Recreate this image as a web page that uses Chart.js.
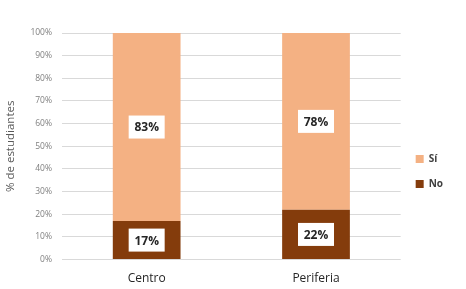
<!DOCTYPE html>
<html>
<head>
<meta charset="utf-8">
<script src="https://cdn.jsdelivr.net/npm/chart.js@4"></script>
<style>
  body { margin: 0; background: #fff; }
  #wrap { width: 466px; height: 289px; }
</style>
</head>
<body>
<div id="wrap"><canvas id="chart" width="466" height="289"></canvas></div>
<script>
// Categories and series values (percent of students)
const categories = ['Centro', 'Periferia'];
const noValues = [17, 22];
const siValues = [83, 78];
const yTicks = [0, 10, 20, 30, 40, 50, 60, 70, 80, 90, 100];

// White boxes with the percentage in the middle of each segment
const boxLabels = {
  id: 'boxLabels',
  afterDatasetsDraw(chart) {
    const ctx = chart.ctx;
    ctx.save();
    ctx.font = 'bold 12px "Open Sans", sans-serif';
    ctx.textAlign = 'center';
    ctx.textBaseline = 'middle';
    chart.data.datasets.forEach((ds, di) => {
      const meta = chart.getDatasetMeta(di);
      meta.data.forEach((bar, i) => {
        const cx = bar.x;
        const cy = (bar.y + bar.base) / 2;
        const w = 36, h = 23;
        ctx.fillStyle = '#ffffff';
        ctx.fillRect(cx - w / 2, cy - h / 2, w, h);
        ctx.fillStyle = '#262626';
        ctx.fillText(ds.data[i] + '%', cx, cy + 1);
      });
    });
    ctx.restore();
  }
};

new Chart(document.getElementById('chart'), {
  type: 'bar',
  data: {
    labels: categories,
    datasets: [
      { label: 'No', data: noValues, backgroundColor: '#843c0c', barPercentage: 0.8, categoryPercentage: 0.5 },
      { label: 'Sí', data: siValues, backgroundColor: '#f4b183', barPercentage: 0.8, categoryPercentage: 0.5 }
    ]
  },
  options: {
    responsive: false,
    animation: false,
    layout: { padding: { top: 33, bottom: -9, left: 4, right: 13 } },
    plugins: {
      tooltip: { enabled: false },
      legend: {
        position: 'right',
        reverse: true,
        title: { display: true, text: ' ', padding: 0, font: { size: 10 } },
        labels: {
          boxWidth: 8, boxHeight: 8, padding: 15,
          color: '#404040',
          font: { family: '"Open Sans", sans-serif', size: 10, weight: 'bold' }
        }
      }
    },
    scales: {
      x: {
        stacked: true,
        grid: { display: false, drawTicks: false },
        border: { display: false },
        ticks: { color: '#262626', padding: 12, font: { family: '"Open Sans", sans-serif', size: 12 } }
      },
      y: {
        stacked: true,
        min: 0, max: 100,
        afterBuildTicks: (axis) => { axis.ticks = yTicks.map(v => ({ value: v })); },
        afterFit: (axis) => { axis.width = 58; },
        grid: { color: '#d9d9d9', drawTicks: false },
        border: { display: false },
        title: {
          display: true, text: '% de estudiantes', color: '#595959',
          font: { family: '"Open Sans", sans-serif', size: 11.5 }, padding: 0
        },
        ticks: {
          color: '#7f7f7f', padding: 10,
          font: { family: '"Open Sans", sans-serif', size: 8.5 },
          callback: (v) => v + '%'
        }
      }
    }
  },
  plugins: [boxLabels]
});
</script>
</body>
</html>
